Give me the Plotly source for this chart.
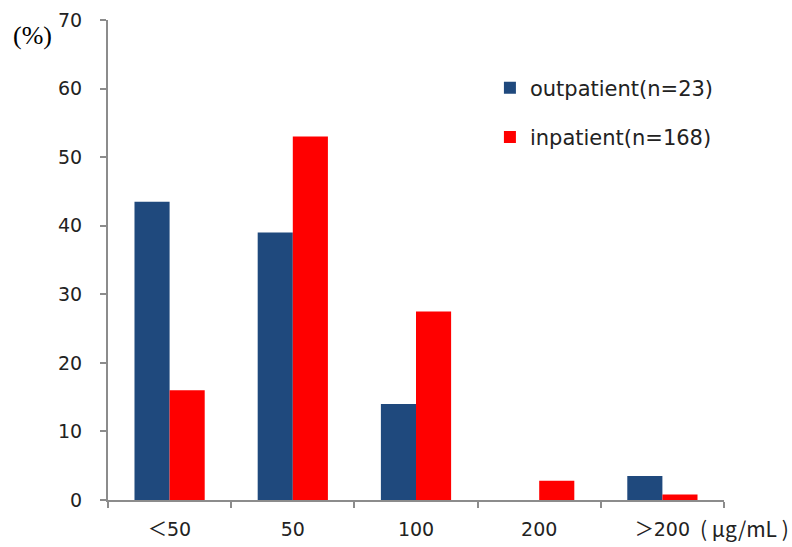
import plotly.graph_objects as go

# Serum concentration categories (μg/mL) and share of patients (%)
categories = ["＜50", "50", "100", "200", "＞200"]
outpatient = [43.5, 39.0, 14.0, 0.0, 3.5]
inpatient = [16.0, 53.0, 27.5, 2.8, 0.8]
y_ticks = [0, 10, 20, 30, 40, 50, 60, 70]

CJK = "Noto Sans CJK JP"


def tick_label(cat):
    # full-width comparison signs are set in a CJK face, the digits in the tick font
    out = ""
    for ch in cat:
        if ch in "＜＞":
            out += f"<span style='font-family:{CJK}'>{ch}</span>"
        else:
            out += ch
    return out


fig = go.Figure()
fig.add_trace(go.Bar(
    x=categories, y=outpatient, name="outpatient(n=23)",
    marker=dict(color="#1F497D", line=dict(width=0)),
    legendgroup="out",
))
fig.add_trace(go.Bar(
    x=categories, y=inpatient, name="inpatient(n=168)",
    marker=dict(color="#FF0000", line=dict(width=0)),
    legendgroup="in",
))

tick_font = dict(family="DejaVu Sans, Verdana, sans-serif", size=19, color="#222222")

fig.update_layout(
    width=792, height=547,
    margin=dict(l=108, r=68, t=20, b=47),
    plot_bgcolor="white", paper_bgcolor="white",
    barmode="group", bargap=0.43, bargroupgap=0,
    showlegend=True,
    legend=dict(
        x=0.62, y=0.901, xanchor="left", yanchor="top",
        font=dict(family="DejaVu Sans, sans-serif", size=21, color="#222222"),
        tracegroupgap=19, traceorder="grouped",
        bgcolor="rgba(0,0,0,0)",
    ),
    xaxis=dict(
        type="category", showline=True, linecolor="#8c8c8c", linewidth=2,
        ticks="outside", tickson="boundaries", ticklen=6, tickcolor="#8c8c8c", tickwidth=2,
        tickvals=categories, ticktext=[tick_label(c) for c in categories],
        tickfont=tick_font, showgrid=False, zeroline=False, ticklabelstandoff=11,
        automargin=False,
    ),
    yaxis=dict(
        range=[0, 70], tickvals=y_ticks, showline=True, linecolor="#8c8c8c", linewidth=2,
        ticks="outside", ticklen=6, tickcolor="#8c8c8c", tickwidth=2,
        tickfont=tick_font, showgrid=False, zeroline=False, ticklabelstandoff=14,
        automargin=False,
    ),
    annotations=[
        dict(text="(%)", xref="paper", yref="paper", x=-0.122, y=0.968,
             xanchor="center", yanchor="middle", showarrow=False,
             font=dict(family="Liberation Serif, Times New Roman, serif", size=26, color="black")),
        dict(text="( μg/mL )", xref="paper", yref="paper", x=1.108, y=-0.058,
             xanchor="right", yanchor="middle", showarrow=False,
             font=dict(family=CJK + ", sans-serif", size=21, color="#222222")),
    ],
)

fig.write_html("out.html")
